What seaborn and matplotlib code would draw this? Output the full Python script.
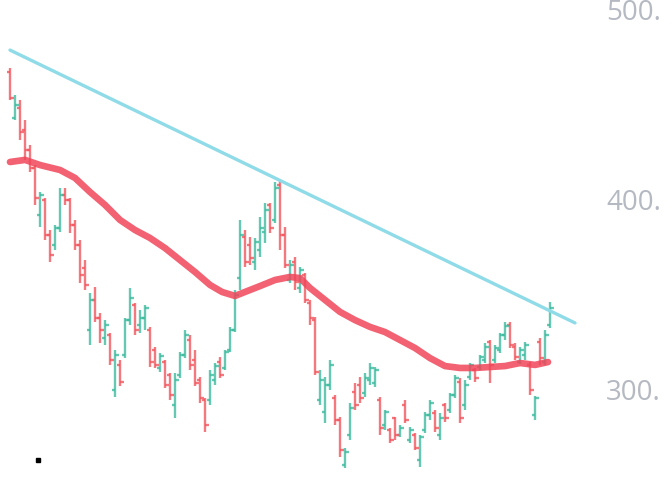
import numpy as np
import pandas as pd
import matplotlib
matplotlib.use('Agg')
import matplotlib.pyplot as plt
import seaborn as sns

# OHLC values, one bar per slot
opens = [467.4, 443.2, 448.4, 436.8, 426.3, 416.8, 392.1, 400.0, 381.6, 376.3,
         385.3, 402.6, 400.0, 386.8, 376.3, 364.2, 331.6, 347.4, 337.9, 327.4,
         328.9, 300.0, 313.2, 318.4, 336.8, 344.7, 334.2, 337.9, 331.6, 321.1,
         311.6, 314.7, 307.9, 292.1, 307.9, 318.4, 326.3, 315.8, 305.3, 294.7,
         294.7, 305.3, 314.7, 311.6, 321.1, 331.6, 358.9, 380.5, 376.3, 367.4,
         373.7, 383.2, 397.4, 389.5, 407.9, 381.6, 357.9, 367.4, 353.7, 360.5,
         345.8, 336.8, 294.7, 288.4, 302.6, 295.8, 284.2, 260.5, 276.3, 298.9,
         302.6, 298.4, 305.3, 303.7, 294.7, 281.6, 278.9, 285.3, 276.3, 292.1,
         273.7, 276.3, 263.2, 278.9, 286.8, 287.9, 276.3, 292.1, 289.5, 297.4,
         304.2, 292.1, 306.8, 310.5, 312.1, 315.8, 325.3, 315.8, 321.1, 328.9,
         334.2, 322.6, 314.7, 318.4, 313.2, 286.8, 325.3, 314.7, 334.2]
highs = [469.5, 455.3, 452.6, 442.1, 428.9, 418.4, 404.2, 401.1, 384.2, 386.8,
         406.3, 406.3, 401.1, 389.5, 378.9, 368.4, 351.1, 354.2, 340.5, 336.8,
         330.0, 321.1, 315.8, 337.9, 353.7, 345.8, 342.1, 344.7, 333.2, 322.6,
         319.5, 315.8, 308.9, 308.9, 320.0, 331.6, 328.9, 321.1, 306.8, 295.8,
         310.5, 314.2, 317.4, 321.1, 333.2, 352.6, 389.5, 384.2, 380.5, 380.0,
         391.1, 398.4, 398.4, 409.5, 410.5, 385.8, 368.4, 370.0, 364.7, 361.6,
         347.4, 338.4, 310.5, 306.8, 315.8, 297.4, 285.8, 269.5, 293.2, 303.7,
         306.8, 308.9, 314.2, 312.1, 296.3, 289.5, 280.0, 285.8, 281.6, 294.7,
         280.5, 277.4, 276.3, 288.4, 294.7, 289.5, 287.9, 293.2, 298.4, 307.9,
         306.3, 305.3, 314.2, 311.6, 318.4, 324.7, 326.3, 323.7, 330.0, 335.8,
         335.8, 324.7, 322.6, 325.3, 314.7, 296.8, 327.4, 331.6, 346.3]
lows = [452.6, 442.1, 431.6, 421.1, 414.7, 397.4, 385.8, 378.9, 367.4, 373.7,
        383.2, 397.4, 382.6, 373.7, 356.3, 352.6, 323.7, 335.8, 324.7, 323.7,
        313.2, 296.3, 302.1, 316.8, 334.2, 328.9, 330.0, 331.6, 312.1, 311.6,
        309.5, 301.1, 294.7, 285.3, 306.3, 316.8, 310.5, 302.1, 293.2, 277.9,
        292.1, 302.6, 306.3, 310.5, 320.0, 330.5, 352.6, 364.7, 365.8, 363.2,
        370.0, 377.4, 382.6, 387.9, 373.7, 364.2, 356.3, 352.6, 351.1, 345.8,
        334.2, 307.9, 292.1, 282.6, 300.0, 281.6, 264.7, 258.9, 273.7, 289.5,
        293.2, 296.3, 302.6, 301.6, 276.3, 278.9, 272.1, 273.7, 275.3, 282.6,
        272.1, 268.4, 259.5, 277.4, 284.2, 277.9, 273.7, 283.2, 287.9, 295.8,
        282.6, 289.5, 305.3, 304.2, 310.5, 314.2, 303.7, 314.2, 319.5, 326.3,
        322.1, 315.8, 313.7, 315.8, 297.4, 284.2, 313.2, 313.2, 332.6]
closes = [453.7, 450.0, 435.8, 426.3, 416.8, 401.1, 402.6, 381.6, 371.1, 385.3,
          402.6, 400.0, 386.8, 376.3, 360.5, 355.3, 347.4, 337.9, 331.6, 334.2,
          315.8, 318.4, 304.2, 336.8, 348.4, 331.6, 337.9, 343.2, 314.7, 313.2,
          317.9, 302.6, 297.4, 305.3, 318.4, 328.9, 313.2, 303.7, 295.8, 281.6,
          307.9, 312.6, 307.9, 320.0, 331.6, 350.0, 381.6, 367.4, 369.5, 377.9,
          385.3, 394.7, 385.3, 406.3, 381.6, 365.8, 365.8, 356.8, 363.2, 347.4,
          337.9, 309.5, 305.3, 302.6, 313.2, 284.2, 268.4, 267.4, 290.5, 292.1,
          295.8, 306.3, 311.6, 310.5, 280.0, 288.4, 273.7, 276.3, 280.0, 284.2,
          278.9, 269.5, 275.3, 286.8, 293.2, 280.0, 285.3, 285.3, 297.4, 306.3,
          285.3, 302.6, 313.2, 306.3, 317.4, 322.6, 313.2, 322.1, 328.9, 333.7,
          323.7, 317.4, 321.1, 323.7, 300.0, 295.8, 316.8, 328.9, 343.2]

# moving average curve (bar position, value)
ma_pos = [0, 3, 6, 10, 13, 16, 19, 22, 25, 28, 31, 34, 37, 40, 42.4, 45, 47, 50,
          53, 56, 58, 60, 63, 66, 69, 72, 75, 78, 81, 84, 87, 90, 93, 96, 99,
          102, 105, 107.6]
ma_vals = [420.0, 421.1, 418.4, 415.8, 411.6, 404.2, 397.4, 389.5, 384.2, 380.0,
           374.7, 368.4, 362.1, 355.3, 351.6, 349.5, 351.6, 354.7, 357.9, 359.5,
           358.9, 353.7, 347.4, 341.1, 336.8, 333.2, 330.5, 326.3, 322.1, 316.8,
           312.6, 311.6, 311.6, 312.1, 312.6, 314.2, 313.2, 314.7]

# descending trendline end points
trend_pos = [0, 113]
trend_vals = [478.9, 335.3]

# price scale (labels are cut off at the right edge in the original)
y_ticks = [300, 400, 500]
y_labels = ['300.', '400.', '500.']

up_color = '#3dbb9f'
down_color = '#f2575f'

sns.set_style('white')
plt.rcParams['font.family'] = ['Open Sans', 'DejaVu Sans']

fig = plt.figure(figsize=(6.72, 4.83), dpi=100)
ax = fig.add_axes([0, 0, 595 / 672, 1])

x = np.arange(len(closes))
o = np.array(opens)
c = np.array(closes)
colors = [up_color if cc >= oo else down_color for oo, cc in zip(o, c)]

# OHLC bars: vertical range, open tick left, close tick right
bar_lw = 1.7
ax.vlines(x, lows, highs, colors=colors, linewidth=bar_lw, alpha=0.8, zorder=2)
ax.hlines(o, x - 0.7, x, colors=colors, linewidth=bar_lw, alpha=0.8, zorder=2)
ax.hlines(c, x, x + 0.7, colors=colors, linewidth=bar_lw, alpha=0.8, zorder=2)

ma_df = pd.DataFrame({'pos': ma_pos, 'val': ma_vals})
sns.lineplot(data=ma_df, x='pos', y='val', ax=ax, color='#f0465a',
             linewidth=4.8, alpha=0.85, zorder=3)

trend_df = pd.DataFrame({'pos': trend_pos, 'val': trend_vals})
sns.lineplot(data=trend_df, x='pos', y='val', ax=ax, color='#8fdbe8',
             linewidth=2.4, zorder=4)

ax.set_xlim(-2, 117)
ax.set_ylim(251.05, 505.26)
ax.set_xlabel('')
ax.set_ylabel('')
ax.set_xticks([])
ax.yaxis.tick_right()
ax.set_yticks(y_ticks)
ax.set_yticklabels(y_labels, fontsize=20, color='#b5b9c2')
ax.tick_params(axis='y', length=0, pad=8)
for s in ax.spines.values():
    s.set_visible(False)

# stray dot near the bottom left
ax.plot([38 / 672], [1 - 460 / 483], marker='s', ms=2.5, color='black',
        transform=fig.transFigure, clip_on=False)

plt.savefig('out.png', dpi=100)
